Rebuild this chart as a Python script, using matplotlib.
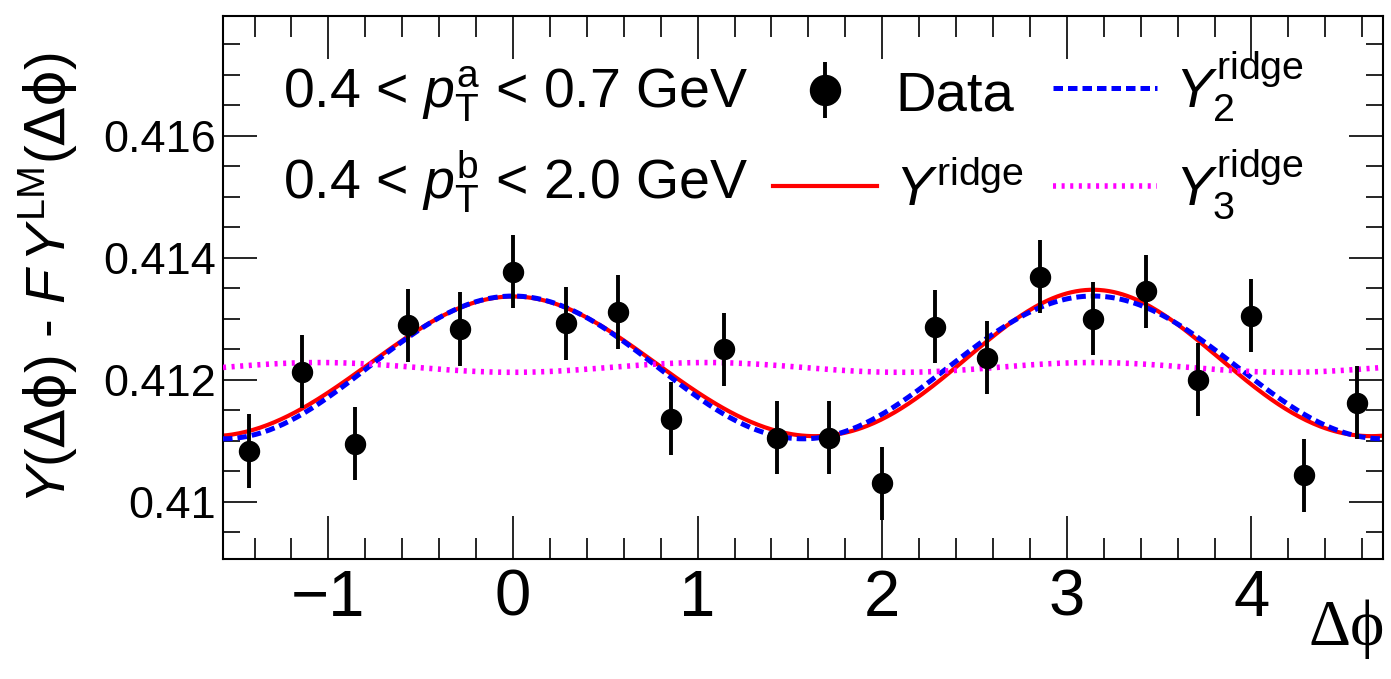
import numpy as np
import matplotlib
matplotlib.use("Agg")
import matplotlib.pyplot as plt
from matplotlib.ticker import MultipleLocator, FuncFormatter

plt.rcParams['font.family'] = ['Liberation Sans', 'DejaVu Sans']
plt.rcParams['mathtext.fontset'] = 'custom'
plt.rcParams['mathtext.rm'] = 'Liberation Sans'
plt.rcParams['mathtext.it'] = 'Liberation Sans:italic'
plt.rcParams['mathtext.bf'] = 'Liberation Sans:bold'
plt.rcParams['mathtext.sf'] = 'DejaVu Sans'

# delta phi bin centres
dphi = [-1.428, -1.142, -0.857, -0.571, -0.286, 0.000, 0.286, 0.571, 0.857, 1.142, 1.428,
        1.714, 1.999, 2.285, 2.570, 2.856, 3.142, 3.427, 3.713, 3.998, 4.284, 4.570]
y_data = [0.41083, 0.41213, 0.41095, 0.41289, 0.41283, 0.41377, 0.41292, 0.41311, 0.41136, 0.41250, 0.41105,
          0.41105, 0.41030, 0.41287, 0.41236, 0.41369, 0.41300, 0.41345, 0.41200, 0.41305, 0.41043, 0.41162]
y_err = [0.0006, 0.0006, 0.0006, 0.0006, 0.0006, 0.0006, 0.0006, 0.0006, 0.0006, 0.0006, 0.0006,
         0.0006, 0.0006, 0.0006, 0.0006, 0.0006, 0.0006, 0.0006, 0.0006, 0.0006, 0.0006, 0.0006]

# fit results: constant, then amplitude of cos(n*dphi) for n = 1, 2, ...
coef_ridge = [0.41221, 0.000025, 0.001168, -0.00008, 0.00004]
coef_ridge2 = [0.41220, 0.0, 0.00117]
coef_ridge3 = [0.41220, 0.0, 0.0, -0.00008]


def fourier(x, coef):
    return coef[0] + sum(c * np.cos(n * x) for n, c in enumerate(coef[1:], start=1))


xs = np.linspace(-np.pi / 2, 3 * np.pi / 2, 500)

fig = plt.figure(figsize=(13.91, 6.79), dpi=100)
ax = fig.add_axes([223 / 1391, 120 / 679, 1160 / 1391, 543 / 679])

l_ridge, = ax.plot(xs, fourier(xs, coef_ridge), color='red', lw=3, zorder=2)
l_2, = ax.plot(xs, fourier(xs, coef_ridge2), color='blue', lw=3.6, dashes=(1.9, 1.0),
               dash_capstyle='butt', zorder=3)
l_3, = ax.plot(xs, fourier(xs, coef_ridge3), color='magenta', lw=4, dashes=(0.55, 1.0),
               dash_capstyle='butt', zorder=3)
eb = ax.errorbar(dphi, y_data, yerr=y_err, fmt='o', color='black', ms=14.4,
                 elinewidth=2.8, capsize=0, zorder=5)

ax.set_xlim(-np.pi / 2, 3 * np.pi / 2)
ax.set_ylim(0.40906, 0.41796)

ax.xaxis.set_major_locator(MultipleLocator(1))
ax.xaxis.set_minor_locator(MultipleLocator(0.2))
ax.yaxis.set_major_locator(MultipleLocator(0.002))
ax.yaxis.set_minor_locator(MultipleLocator(0.0005))
ax.yaxis.set_major_formatter(FuncFormatter(lambda v, p: f"{round(v, 4):g}"))

for s in ax.spines.values():
    s.set_linewidth(1.5)
ax.tick_params(which='both', direction='in', top=True, right=True, width=1.2)
ax.tick_params(axis='x', which='major', length=31, labelsize=47, pad=7)
ax.tick_params(axis='x', which='minor', length=15)
ax.tick_params(axis='y', which='major', length=24.5, labelsize=32.5, pad=5)
ax.tick_params(axis='y', which='minor', length=12.2)

ax.set_xlabel('Δϕ', fontsize=47, family=['Liberation Serif', 'DejaVu Serif'], loc='right')
ax.xaxis.set_label_coords(1.0017, -0.0755)
ax.set_ylabel(r'$Y(\mathsf{\Delta\phi})$ - $F\,Y^{\rm LM}(\mathsf{\Delta\phi})$', fontsize=40.5)
ax.yaxis.set_label_coords(-0.1235, 0.518)

ax.text(0.0517, 0.8306, r'0.4 < $p_{\rm T}^{\rm a}$ < 0.7 GeV', transform=ax.transAxes,
        fontsize=40, ha='left', va='baseline')
ax.text(0.0517, 0.6648, r'0.4 < $p_{\rm T}^{\rm b}$ < 2.0 GeV', transform=ax.transAxes,
        fontsize=40, ha='left', va='baseline')

leg_opts = dict(loc='upper left', frameon=False, fontsize=40.5, handlelength=1.85,
                handletextpad=0.32, borderpad=0, borderaxespad=0, numpoints=1)
leg1 = ax.legend([eb, l_ridge], ['Data', r'$Y^{\rm ridge}$'], bbox_to_anchor=(0.4741, 0.9005),
                 labelspacing=0.77, markerscale=1.5, **leg_opts)
ax.add_artist(leg1)
leg2 = ax.legend([l_2, l_3], [r'$Y_{2}^{\rm ridge}$', r'$Y_{3}^{\rm ridge}$'],
                 bbox_to_anchor=(0.7155, 0.939), labelspacing=0.43, **leg_opts)

fig.savefig('out.png', dpi=100)
